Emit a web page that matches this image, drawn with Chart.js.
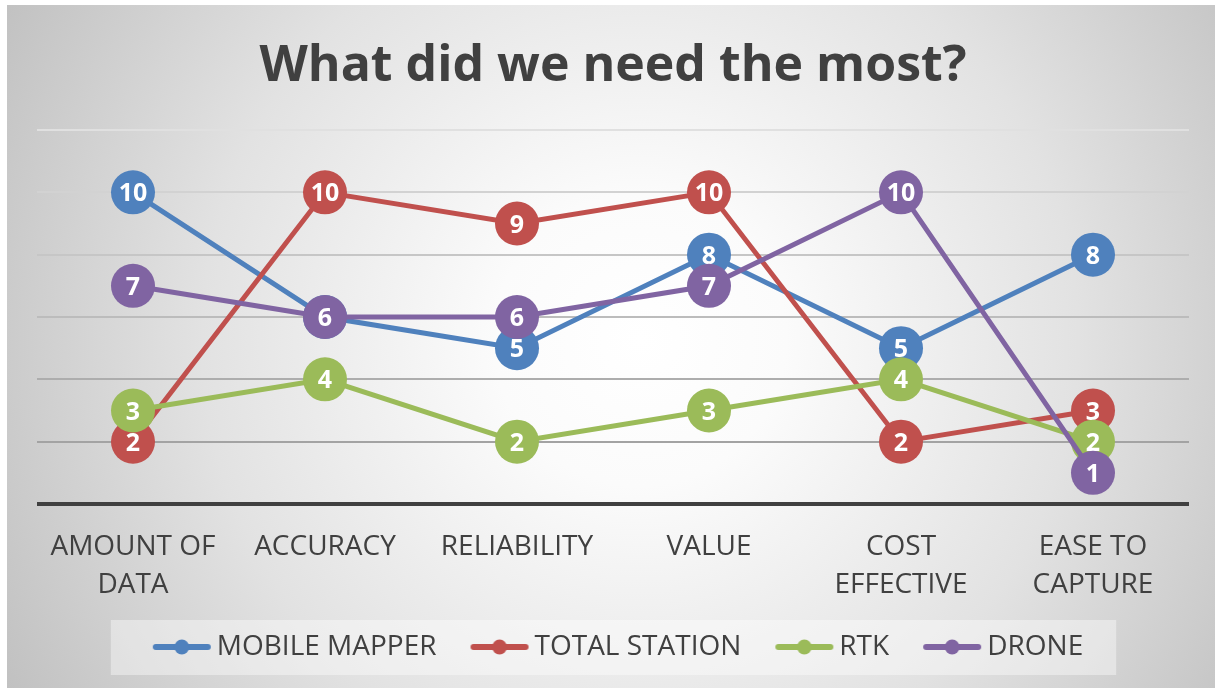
<!DOCTYPE html>
<html><head><meta charset="utf-8">
<script src="https://cdn.jsdelivr.net/npm/chart.js@4.4.1/dist/chart.umd.min.js"></script>
<style>html,body{margin:0;padding:0;background:#fff;} #wrap{position:relative;width:1215px;height:688px;}</style>
</head><body><div id="wrap"><canvas id="c"></canvas></div>
<script>
const categories = [["AMOUNT OF","DATA"],"ACCURACY","RELIABILITY","VALUE",["COST","EFFECTIVE"],["EASE TO","CAPTURE"]];
const seriesNames = ["MOBILE MAPPER","TOTAL STATION","RTK","DRONE"];
const mobileMapper = [10,6,5,8,5,8];
const totalStation = [2,10,9,10,2,3];
const rtk = [3,4,2,3,4,2];
const drone = [7,6,6,7,10,1];
const yTicks = [0,2,4,6,8,10,12];
const colors = ["#4F81BD","#C0504D","#9BBB59","#8064A2"];
const seriesValues = [mobileMapper,totalStation,rtk,drone];

const gridColors = {0:'#404040',2:'#a3a3a3',4:'#adadad',6:'#bcbcbc',8:'#c6c6c6',10:'#d2d2d2',12:'#e0e0e0'};

const LEG_BOX = 60, LEG_PAD = 24, LEG_FONT = 28;
function legendMarker(color){
  const c = document.createElement('canvas');
  c.width = 82; c.height = 18;
  const x = c.getContext('2d');
  x.strokeStyle = color; x.lineWidth = 6; x.lineCap = 'round';
  x.beginPath(); x.moveTo(24,9); x.lineTo(76,9); x.stroke();
  x.fillStyle = color; x.beginPath(); x.arc(50,9,7.4,0,Math.PI*2); x.fill();
  return c;
}
const markers = colors.map(legendMarker);

const bgPlugin = {
  id:'bg',
  beforeDraw(chart){
    const ctx = chart.ctx;
    ctx.save();
    const g = ctx.createRadialGradient(640,340,0,640,340,730);
    g.addColorStop(0,'#ffffff');
    g.addColorStop(0.2,'#fbfbfb');
    g.addColorStop(0.6,'#e2e2e2');
    g.addColorStop(1,'#c0c0c0');
    ctx.fillStyle = g;
    ctx.fillRect(7,5,1208,683);
    const lg = chart.legend;
    if (lg && lg.legendHitBoxes && lg.legendHitBoxes.length){
      const hb = lg.legendHitBoxes;
      const first = hb[0], last = hb[hb.length-1];
      const cy = first.top + first.height/2;
      const left = first.left + 10 - 42;
      const right = last.left + last.width + 33;
      ctx.fillStyle = 'rgba(255,255,255,0.4)';
      ctx.fillRect(left, cy-27, right-left, 55);
    }
    ctx.restore();
  }
};

const labelPlugin = {
  id:'pointLabels',
  afterDatasetDraw(chart, args){
    const ctx = chart.ctx;
    const ds = chart.data.datasets[args.index];
    ctx.save();
    ctx.fillStyle = '#ffffff';
    ctx.font = 'bold 25px "Open Sans"';
    ctx.textAlign = 'center';
    ctx.textBaseline = 'alphabetic';
    args.meta.data.forEach((pt,i)=>{
      ctx.fillText(String(ds.data[i]), pt.x, pt.y + 9);
    });
    ctx.restore();
  }
};

const datasets = seriesNames.map((name,i)=>({
  label:name,
  data:seriesValues[i],
  borderColor:colors[i],
  backgroundColor:colors[i],
  pointBackgroundColor:colors[i],
  pointBorderColor:colors[i],
  pointBorderWidth:0,
  pointRadius:22,
  pointHoverRadius:22,
  borderWidth:5,
  tension:0,
  order:4-i,
  clip:false
}));

new Chart(document.getElementById('c'),{
  type:'line',
  data:{labels:categories,datasets},
  plugins:[bgPlugin,labelPlugin],
  options:{
    responsive:true,
    maintainAspectRatio:false,
    animation:false,
    events:[],
    layout:{padding:{left:37,right:26,top:0,bottom:17}},
    plugins:{
      tooltip:{enabled:false},
      title:{
        display:true,
        text:'What did we need the most?',
        color:'#404040',
        font:{family:'"Open Sans"',size:50,weight:'bold',lineHeight:1.2},
        padding:{top:37,bottom:33}
      },
      legend:{
        position:'bottom',
        labels:{
          color:'#404040',
          font:{family:'"Open Sans"',size:LEG_FONT},
          usePointStyle:true,
          pointStyleWidth:LEG_BOX,
          padding:LEG_PAD,
          generateLabels(chart){
            return chart.data.datasets.map((d,i)=>({
              text:d.label,
              pointStyle:markers[i],
              fillStyle:colors[i],
              strokeStyle:colors[i],
              lineWidth:0,
              hidden:false,
              datasetIndex:i,
              fontColor:'#404040'
            }));
          }
        }
      }
    },
    scales:{
      x:{
        offset:true,
        grid:{display:false,drawTicks:false,offset:true},
        border:{display:false},
        ticks:{color:'#404040',font:{family:'"Open Sans"',size:28,lineHeight:1.357},padding:24,maxRotation:0,autoSkip:false},
        afterFit(s){ s.height = 105; s.paddingLeft = 0; s.paddingRight = 0; }
      },
      y:{
        min:0,max:12,
        grid:{
          drawTicks:false,
          color:(c)=>gridColors[c.tick.value] || '#bbbbbb',
          lineWidth:(c)=>c.tick.value===0?4:2
        },
        border:{display:false},
        ticks:{display:false,stepSize:2},
        afterBuildTicks(s){ s.ticks = yTicks.map(v=>({value:v})); },
        afterFit(s){ s.width = 0; s.paddingTop = 0; s.paddingBottom = 0; }
      }
    }
  }
});
</script>
</body></html>
